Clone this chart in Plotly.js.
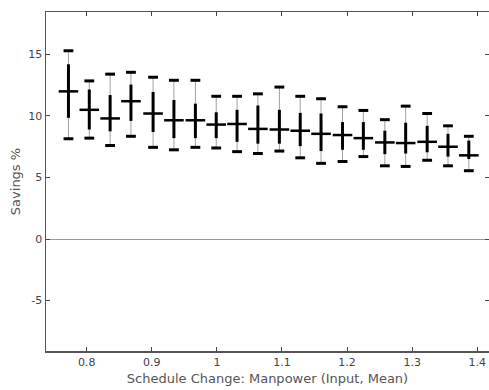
<!DOCTYPE html>
<html>
<head>
<meta charset="utf-8">
<script src="https://cdn.plot.ly/plotly-3.0.1.min.js"></script>
<style>html,body{margin:0;padding:0;background:#fff;}#chart{width:489px;height:390px;}</style>
</head>
<body>
<div id="chart"></div>
<script>
// Manpower input mean (x positions of each group)
const manpower = [0.772, 0.804, 0.836, 0.868, 0.902, 0.934, 0.967, 0.999, 1.031, 1.063,
                  1.096, 1.128, 1.160, 1.193, 1.225, 1.258, 1.290, 1.323, 1.355, 1.387];
// Savings % statistics per group
const maxVal  = [15.3, 12.85, 13.4, 13.55, 13.15, 12.9, 12.9, 11.6, 11.6, 11.8,
                 12.35, 11.6, 11.4, 10.75, 10.45, 9.7, 10.8, 10.2, 9.2, 8.35];
const upper   = [14.2, 12.15, 11.7, 12.55, 11.95, 11.3, 11.0, 10.3, 10.5, 10.85,
                 10.5, 10.25, 10.2, 9.5, 9.5, 8.8, 9.45, 9.2, 8.55, 8.0];
const meanVal = [12.0, 10.5, 9.8, 11.2, 10.2, 9.65, 9.65, 9.3, 9.35, 8.95,
                 8.9, 8.8, 8.55, 8.45, 8.2, 7.85, 7.8, 7.9, 7.5, 6.8];
const lower   = [9.85, 8.9, 8.75, 9.6, 8.7, 8.2, 8.2, 8.2, 7.9, 7.75,
                 7.75, 7.55, 7.15, 7.25, 7.25, 6.9, 6.95, 7.05, 6.7, 6.5];
const minVal  = [8.15, 8.2, 7.6, 8.35, 7.45, 7.25, 7.45, 7.4, 7.1, 6.95,
                 7.15, 6.6, 6.15, 6.3, 6.7, 5.95, 5.9, 6.4, 5.95, 5.55];

const xTickVals = [0.8, 0.9, 1.0, 1.1, 1.2, 1.3, 1.4];
const xTickText = ['0.8', '0.9', '1', '1.1', '1.2', '1.3', '1.4'];
const yTickVals = [-5, 0, 5, 10, 15];
const yTickText = ['-5', '0', '5', '10', '15'];

const traces = [
  { // thin whisker from min to max
    type: 'scatter', mode: 'markers', x: manpower, y: meanVal,
    marker: {size: 1, color: 'rgba(0,0,0,0)'},
    error_y: {type: 'data', symmetric: false,
      array: maxVal.map((v, i) => v - meanVal[i]),
      arrayminus: meanVal.map((v, i) => v - minVal[i]),
      color: '#a0a0a0', thickness: 1, width: 0},
    hoverinfo: 'skip', showlegend: false
  },
  { // thick central range
    type: 'scatter', mode: 'markers', x: manpower, y: meanVal,
    marker: {size: 1, color: 'rgba(0,0,0,0)'},
    error_y: {type: 'data', symmetric: false,
      array: upper.map((v, i) => v - meanVal[i]),
      arrayminus: meanVal.map((v, i) => v - lower[i]),
      color: '#000', thickness: 3, width: 0},
    hoverinfo: 'skip', showlegend: false
  },
  { // caps at max
    type: 'scatter', mode: 'markers', x: manpower, y: maxVal,
    marker: {symbol: 'line-ew', size: 7, line: {width: 3, color: '#000'}},
    hoverinfo: 'skip', showlegend: false
  },
  { // caps at min
    type: 'scatter', mode: 'markers', x: manpower, y: minVal,
    marker: {symbol: 'line-ew', size: 7, line: {width: 3, color: '#000'}},
    hoverinfo: 'skip', showlegend: false
  },
  { // mean tick
    type: 'scatter', mode: 'markers', x: manpower, y: meanVal,
    marker: {symbol: 'line-ew', size: 14, line: {width: 2.5, color: '#000'}},
    hoverinfo: 'skip', showlegend: false
  }
];

const axisFont = {family: 'DejaVu Sans, Verdana, sans-serif', size: 11, color: '#444'};
const layout = {
  width: 489, height: 390,
  margin: {l: 46, r: 0, t: 12, b: 39},
  paper_bgcolor: '#fff', plot_bgcolor: '#fff',
  showlegend: false,
  xaxis: {
    range: [0.7375, 1.418],
    tickmode: 'array', tickvals: xTickVals, ticktext: xTickText,
    ticks: 'inside', ticklen: 4, tickcolor: '#444', tickwidth: 1,
    showline: true, linecolor: '#555', linewidth: 1.5, mirror: 'ticks',
    showgrid: false, zeroline: false,
    tickfont: axisFont,
    title: {text: 'Schedule Change: Manpower (Input, Mean)', standoff: 6,
            font: {family: 'DejaVu Sans, Verdana, sans-serif', size: 13, color: '#555'}},
    automargin: false
  },
  yaxis: {
    range: [-9.1, 18.45],
    tickmode: 'array', tickvals: yTickVals, ticktext: yTickText,
    ticks: 'inside', ticklen: 4, tickcolor: '#444', tickwidth: 1,
    showline: true, linecolor: '#555', linewidth: 1.5, mirror: 'ticks',
    showgrid: false,
    zeroline: true, zerolinecolor: '#999', zerolinewidth: 1,
    tickfont: axisFont,
    title: {text: 'Savings %', standoff: 4,
            font: {family: 'DejaVu Sans, Verdana, sans-serif', size: 13, color: '#555'}},
    automargin: false
  }
};

Plotly.newPlot('chart', traces, layout, {displayModeBar: false, staticPlot: true});
</script>
</body>
</html>
